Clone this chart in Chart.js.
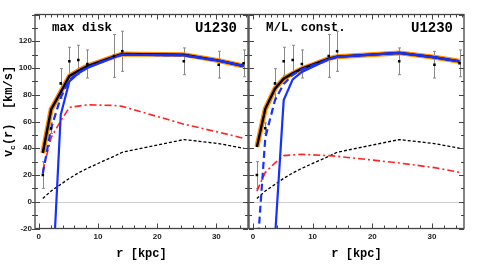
<!DOCTYPE html>
<html>
<head>
<meta charset="utf-8">
<script src="https://cdn.jsdelivr.net/npm/chart.js@4.4.1/dist/chart.umd.min.js"></script>
<style>
  html, body { margin: 0; padding: 0; background: #fff; }
  #wrap { position: relative; width: 480px; height: 276px; overflow: hidden; }
  canvas { position: absolute; top: 0; }
</style>
</head>
<body>
<div id="wrap">
  <canvas id="left" width="252" height="276" style="left:0px"></canvas>
  <canvas id="right" width="240" height="276" style="left:240px"></canvas>
</div>
<script>
// observed rotation curve (kpc, km/s)
const radii = [0.67, 2.08, 3.7, 5.16, 6.67, 8.2, 12.7, 14.1, 24.5, 30.4, 34.6];
const vObs  = [20, 55, 88.5, 105, 106, 103, 109, 112.5, 105, 102.5, 103.5];
const vErr  = [10, 4, 11, 10.5, 11, 10.5, 16, 15, 10, 10, 10];
const vHalo = [2.5, 8, 13, 17.5, 21.5, 25, 34, 37, 46.5, 43.5, 40];

// max disk fit
const maxDiskTotal     = [36.5, 69, 82, 94, 98, 101.5, 108.5, 110.5, 110, 105.5, 101.5];
const maxDiskDisk      = [23, 48, 60.5, 70.5, 71.5, 72.5, 72, 71.3, 58, 52, 47.5];
const maxDiskBlueDash  = [21, 55, 78, 91, 96.5, 100.5, 108, 110, 109.5, 105.5, 101.5];
const maxDiskBlueSolid = [null, -78, 65, 90, 96, 100, 108, 110, 109.5, 105.5, 101.5];

// M/L const fit
const mlTotal     = [41, 69.5, 84.5, 92, 96, 99.5, 107, 108.5, 111.3, 108, 105];
const mlDisk      = [8, 22, 29, 34.5, 35, 35.5, 34.5, 34, 29, 25.5, 22];
const mlBlueDash  = [-41, 48, 76, 88, 95, 99, 106.5, 108.3, 111.3, 108, 105];
const mlBlueSolid = [null, null, -27, 76, 91.5, 97, 106.5, 108.3, 111.3, 108, 105];

const xTicks = [0, 10, 20, 30];
const yTicks = [-20, 0, 20, 40, 60, 80, 100, 120];

const BLUE = '#1530ff', RED = '#ff2424', ORANGE = '#ff8c00';
const MONO = '"Liberation Mono", "DejaVu Sans Mono", monospace';

const pts = arr => radii.map((r, i) => ({ x: r, y: arr[i] }));

function lineSet(arr, color, width, dash) {
  return {
    data: pts(arr), borderColor: color, borderWidth: width, borderDash: dash || [],
    pointRadius: 0, fill: false, tension: 0, spanGaps: false
  };
}

const deco = {
  id: 'deco',
  beforeDatasetsDraw(chart) {
    const { ctx, chartArea: a, scales: { x, y } } = chart;
    ctx.save();
    ctx.beginPath(); ctx.rect(a.left, a.top, a.right - a.left, a.bottom - a.top); ctx.clip();
    ctx.strokeStyle = '#cfcfcf'; ctx.lineWidth = 1;
    const y0 = Math.round(y.getPixelForValue(0)) + 0.5;
    ctx.beginPath(); ctx.moveTo(a.left, y0); ctx.lineTo(a.right, y0); ctx.stroke();
    // error bars
    ctx.strokeStyle = '#8a8a8a'; ctx.lineWidth = 1;
    radii.forEach((r, i) => {
      const px = Math.round(x.getPixelForValue(r)) + 0.5;
      const t = y.getPixelForValue(vObs[i] + vErr[i]);
      const b = y.getPixelForValue(vObs[i] - vErr[i]);
      ctx.beginPath();
      ctx.moveTo(px, t); ctx.lineTo(px, b);
      ctx.moveTo(px - 1.5, t); ctx.lineTo(px + 1.5, t);
      ctx.moveTo(px - 1.5, b); ctx.lineTo(px + 1.5, b);
      ctx.stroke();
    });
    ctx.restore();
  },
  afterDraw(chart, args, o) {
    const { ctx, chartArea: a, scales: { x, y } } = chart;
    ctx.save();
    ctx.strokeStyle = '#444'; ctx.lineWidth = 1.3;
    ctx.strokeRect(a.left, a.top, a.right - a.left, a.bottom - a.top);
    ctx.lineWidth = 1;
    ctx.beginPath();
    for (let v = -20; v <= 140; v += 10) {
      const py = Math.round(y.getPixelForValue(v)) + 0.5;
      const len = v % 20 === 0 ? 5 : 3;
      ctx.moveTo(a.left - (o.outLeft ? 3 : 0), py); ctx.lineTo(a.left + len, py);
      ctx.moveTo(a.right, py); ctx.lineTo(a.right - len, py);
    }
    for (let k = 0; k <= 35; k += 1) {
      const px = Math.round(x.getPixelForValue(k)) + 0.5;
      const len = k % 10 === 0 ? 5 : 3;
      ctx.moveTo(px, a.top); ctx.lineTo(px, a.top + len);
      if (k % 2 === 0) { ctx.moveTo(px, a.bottom); ctx.lineTo(px, a.bottom - len); }
    }
    ctx.stroke();

    ctx.fillStyle = '#000';
    ctx.textBaseline = 'alphabetic';
    // panel label
    ctx.font = 'bold 12.5px ' + MONO;
    let tx = a.left + 17;
    ctx.textAlign = 'left';
    ctx.fillText(o.label, tx, a.top + 16);
    if (o.sub) {
      tx += ctx.measureText(o.label).width;
      ctx.font = 'bold 8px ' + MONO;
      ctx.fillText(o.sub, tx, a.top + 19);
      tx += ctx.measureText(o.sub).width;
      ctx.font = 'bold 12.5px ' + MONO;
      ctx.fillText(o.rest, tx, a.top + 16);
    }
    ctx.font = 'bold 14px ' + MONO;
    ctx.textAlign = 'right';
    ctx.fillText('U1230', a.right - 11, a.top + 17.5);

    // x title
    ctx.font = 'bold 12px ' + MONO;
    ctx.textAlign = 'center';
    ctx.fillText('r [kpc]', (a.left + a.right) / 2, 257);

    // y title
    if (o.yTitle) {
      ctx.translate(12, 111.5);
      ctx.rotate(-Math.PI / 2);
      ctx.textAlign = 'left';
      const big = 'bold 12px ' + MONO, small = 'bold 8px ' + MONO;
      ctx.font = big; const wv = ctx.measureText('v').width;
      ctx.font = small; const wc = ctx.measureText('c').width;
      ctx.font = big; const wr = ctx.measureText('(r)  [km/s]').width;
      let s = -(wv + wc + wr) / 2;
      ctx.fillText('v', s, 0); s += wv;
      ctx.font = small; ctx.fillText('c', s, 3); s += wc;
      ctx.font = big; ctx.fillText('(r)  [km/s]', s, 0);
    }
    ctx.restore();
  }
};

function makeChart(id, total, disk, blueDash, blueSolid, opts) {
  return new Chart(document.getElementById(id), {
    type: 'line',
    data: {
      datasets: [
        { data: pts(vObs), showLine: false, pointStyle: 'rect', pointRadius: 1.8,
          backgroundColor: '#000', borderColor: '#000', borderWidth: 0 },
        lineSet(blueSolid, BLUE, 2.2),
        lineSet(blueDash, BLUE, 2.2, [7, 4]),
        lineSet(total, '#000', 2.4),
        lineSet(total, ORANGE, 5),
        lineSet(disk, RED, 1.6, [7, 3, 2, 3]),
        lineSet(vHalo, '#000', 1.3, [3, 2])
      ]
    },
    options: {
      responsive: false,
      animation: false,
      layout: { padding: { top: 14.5, right: opts.padRight, bottom: 0, left: 0 } },
      plugins: {
        legend: { display: false },
        tooltip: { enabled: false },
        deco: opts.deco
      },
      scales: {
        x: {
          type: 'linear', min: -0.65, max: 35.35,
          afterBuildTicks: s => { s.ticks = xTicks.map(v => ({ value: v })); },
          afterFit: s => { s.height = 47.5; },
          grid: { display: false, drawTicks: false },
          border: { display: false },
          ticks: { padding: 3, maxRotation: 0, autoSkip: false, color: '#222',
                   font: { family: '"Liberation Sans", Arial, sans-serif', weight: 'bold', size: 8 } }
        },
        y: {
          type: 'linear', min: -20, max: 140,
          afterBuildTicks: s => { s.ticks = yTicks.map(v => ({ value: v })); },
          afterFit: s => { s.width = opts.yWidth; },
          grid: { display: false, drawTicks: false },
          border: { display: false },
          ticks: { display: opts.yLabels, padding: 3, color: '#222',
                   font: { family: '"Liberation Sans", Arial, sans-serif', weight: 'bold', size: 8 } }
        }
      }
    },
    plugins: [deco]
  });
}

makeChart('left', maxDiskTotal, maxDiskDisk, maxDiskBlueDash, maxDiskBlueSolid,
  { padRight: 3, yWidth: 35, yLabels: true,
    deco: { label: 'max disk', outLeft: true, yTitle: true } });
makeChart('right', mlTotal, mlDisk, mlBlueDash, mlBlueSolid,
  { padRight: 16, yWidth: 9, yLabels: false,
    deco: { label: 'M/L', sub: '*', rest: ' const.', outLeft: false, yTitle: false } });
</script>
</body>
</html>
